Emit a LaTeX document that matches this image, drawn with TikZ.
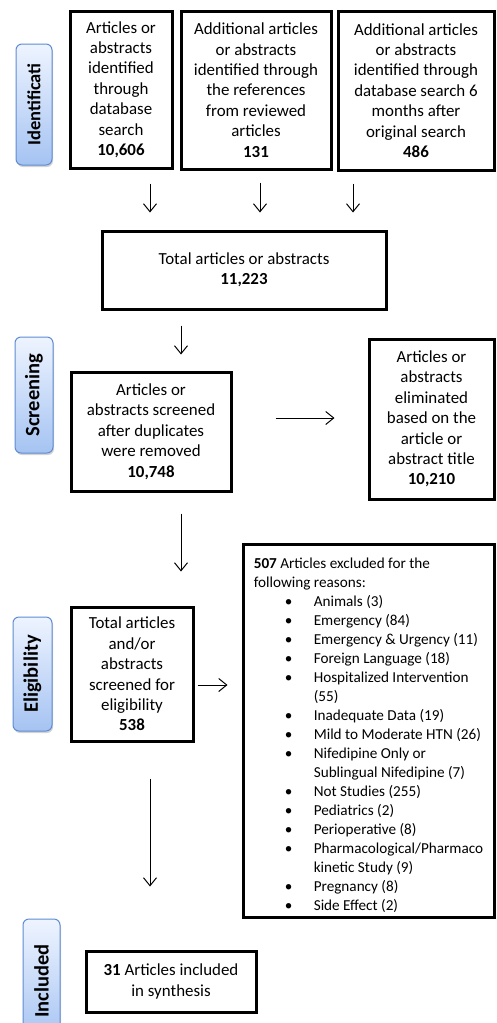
\documentclass[tikz,border=0pt]{standalone}
\usepackage{fontspec}
\setmainfont{Carlito}
\usetikzlibrary{arrows.meta,positioning,shadows}
\definecolor{stageedge}{RGB}{95,140,210}
\definecolor{stagelight}{RGB}{238,244,255}
\definecolor{stagedark}{RGB}{165,195,242}
\newcommand{\reason}[1]{\hspace*{31pt}\makebox[29pt][l]{\textbullet}#1}
\newcommand{\reasonmore}[1]{\hspace*{60pt}#1}

\begin{document}
\begin{tikzpicture}[x=1pt,y=-1pt,
  box/.style={draw,line width=3pt,align=center,inner sep=2pt,font=\fontsize{16.9}{20.4}\selectfont},
  stage/.style={draw=stageedge,line width=1pt,rounded corners=6pt,rotate=90,
    top color=stagelight,bottom color=stagedark,
    drop shadow={opacity=0.35,shadow xshift=1pt,shadow yshift=-2pt},
    font=\fontsize{20.5}{22}\selectfont\bfseries},
  arr/.style={-{Straight Barb[length=8pt,width=13pt]},line width=1pt}]

  \useasboundingbox (0,0) rectangle (496,1023);

  % stage labels on the left
  \node[stage,minimum width=121pt,minimum height=36pt,font=\fontsize{18.5}{20}\selectfont\bfseries] (identlabel) at (34,104.5) {Identificati};
  \node[stage,minimum width=116pt,minimum height=38pt] (screenlabel) at (34,395) {Screening};
  \node[stage,minimum width=114pt,minimum height=39pt] (eliglabel) at (32.5,674) {Eligibility};
  \node[stage,minimum width=124pt,minimum height=37pt] (incllabel) at (41.5,981) {Included};

  % identification
  \node[box,minimum width=102pt,minimum height=157pt] (src1) at (121,89.5)
    {Articles or\\abstracts\\identified\\through\\database\\search\\\textbf{10,606}};
  \node[box,minimum width=150pt,minimum height=158pt] (src2) at (256,90)
    {Additional articles\\or abstracts\\identified through\\the references\\from reviewed\\articles\\\textbf{131}};
  \node[box,minimum width=156pt,minimum height=159pt] (src3) at (416,90.5)
    {Additional articles\\or abstracts\\identified through\\database search 6\\months after\\original search\\\textbf{486}};

  \node[box,minimum width=284pt,minimum height=78pt] (total) at (244,270)
    {Total articles or abstracts\\\textbf{11,223}};

  % screening
  \node[box,minimum width=160pt,minimum height=119pt] (screened) at (151,431.5)
    {Articles or\\abstracts screened\\after duplicates\\were removed\\\textbf{10,748}};
  \node[box,minimum width=125pt,minimum height=160pt] (removed) at (431.5,419)
    {Articles or\\abstracts\\eliminated\\based on the\\article or\\abstract title\\\textbf{10,210}};

  % eligibility
  \node[box,minimum width=122pt,minimum height=134pt] (eligible) at (132,674)
    {Total articles\\and/or\\abstracts\\screened for\\eligibility\\\textbf{538}};
  \node[box,align=left,minimum width=251pt,minimum height=373pt,
    font=\fontsize{15.2}{19}\selectfont] (excluded) at (368.5,730.5)
    {\rule{0pt}{21pt}\textbf{507} Articles excluded for the\\following reasons:\\
     \reason{Animals (3)}\\
     \reason{Emergency (84)}\\
     \reason{Emergency \& Urgency (11)}\\
     \reason{Foreign Language (18)}\\
     \reason{Hospitalized Intervention}\\
     \reasonmore{(55)}\\
     \reason{Inadequate Data (19)}\\
     \reason{Mild to Moderate HTN (26)}\\
     \reason{Nifedipine Only or}\\
     \reasonmore{Sublingual Nifedipine (7)}\\
     \reason{Not Studies (255)}\\
     \reason{Pediatrics (2)}\\
     \reason{Perioperative (8)}\\
     \reason{Pharmacological/Pharmaco}\\
     \reasonmore{kinetic Study (9)}\\
     \reason{Pregnancy (8)}\\
     \reason{Side Effect (2)}};

  % included
  \node[box,minimum width=170pt,minimum height=61pt] (included) at (171,981.5)
    {\textbf{31} Articles included\\in synthesis};

  \draw[arr,shorten <=14pt,shorten >=17pt] ([xshift=29pt]src1.south) -- ([xshift=29pt]src1.south |- total.north);
  \draw[arr,shorten <=12pt,shorten >=17pt] ([xshift=4pt]src2.south) -- ([xshift=4pt]src2.south |- total.north);
  \draw[arr,shorten <=12pt,shorten >=17pt] ([xshift=-63pt]src3.south) -- ([xshift=-63pt]src3.south |- total.north);
  \draw[arr,shorten <=15pt,shorten >=16pt] ([xshift=-63pt]total.south) -- ([xshift=-63pt]total.south |- screened.north);
  \draw[arr,shorten <=43pt,shorten >=33pt] ([yshift=13.5pt]screened.east) -- ([yshift=13.5pt]screened.east -| removed.west);
  \draw[arr,shorten <=21pt,shorten >=34pt] ([xshift=30pt]screened.south) -- ([xshift=30pt]screened.south |- eligible.north);
  \draw[arr,shorten <=3pt,shorten >=14pt] ([yshift=-11pt]eligible.east) -- ([yshift=-11pt]eligible.east -| excluded.west);
  \draw[arr,shorten <=36pt,shorten >=63pt] ([xshift=18pt]eligible.south) -- ([xshift=18pt]eligible.south |- included.north);
\end{tikzpicture}
\end{document}
